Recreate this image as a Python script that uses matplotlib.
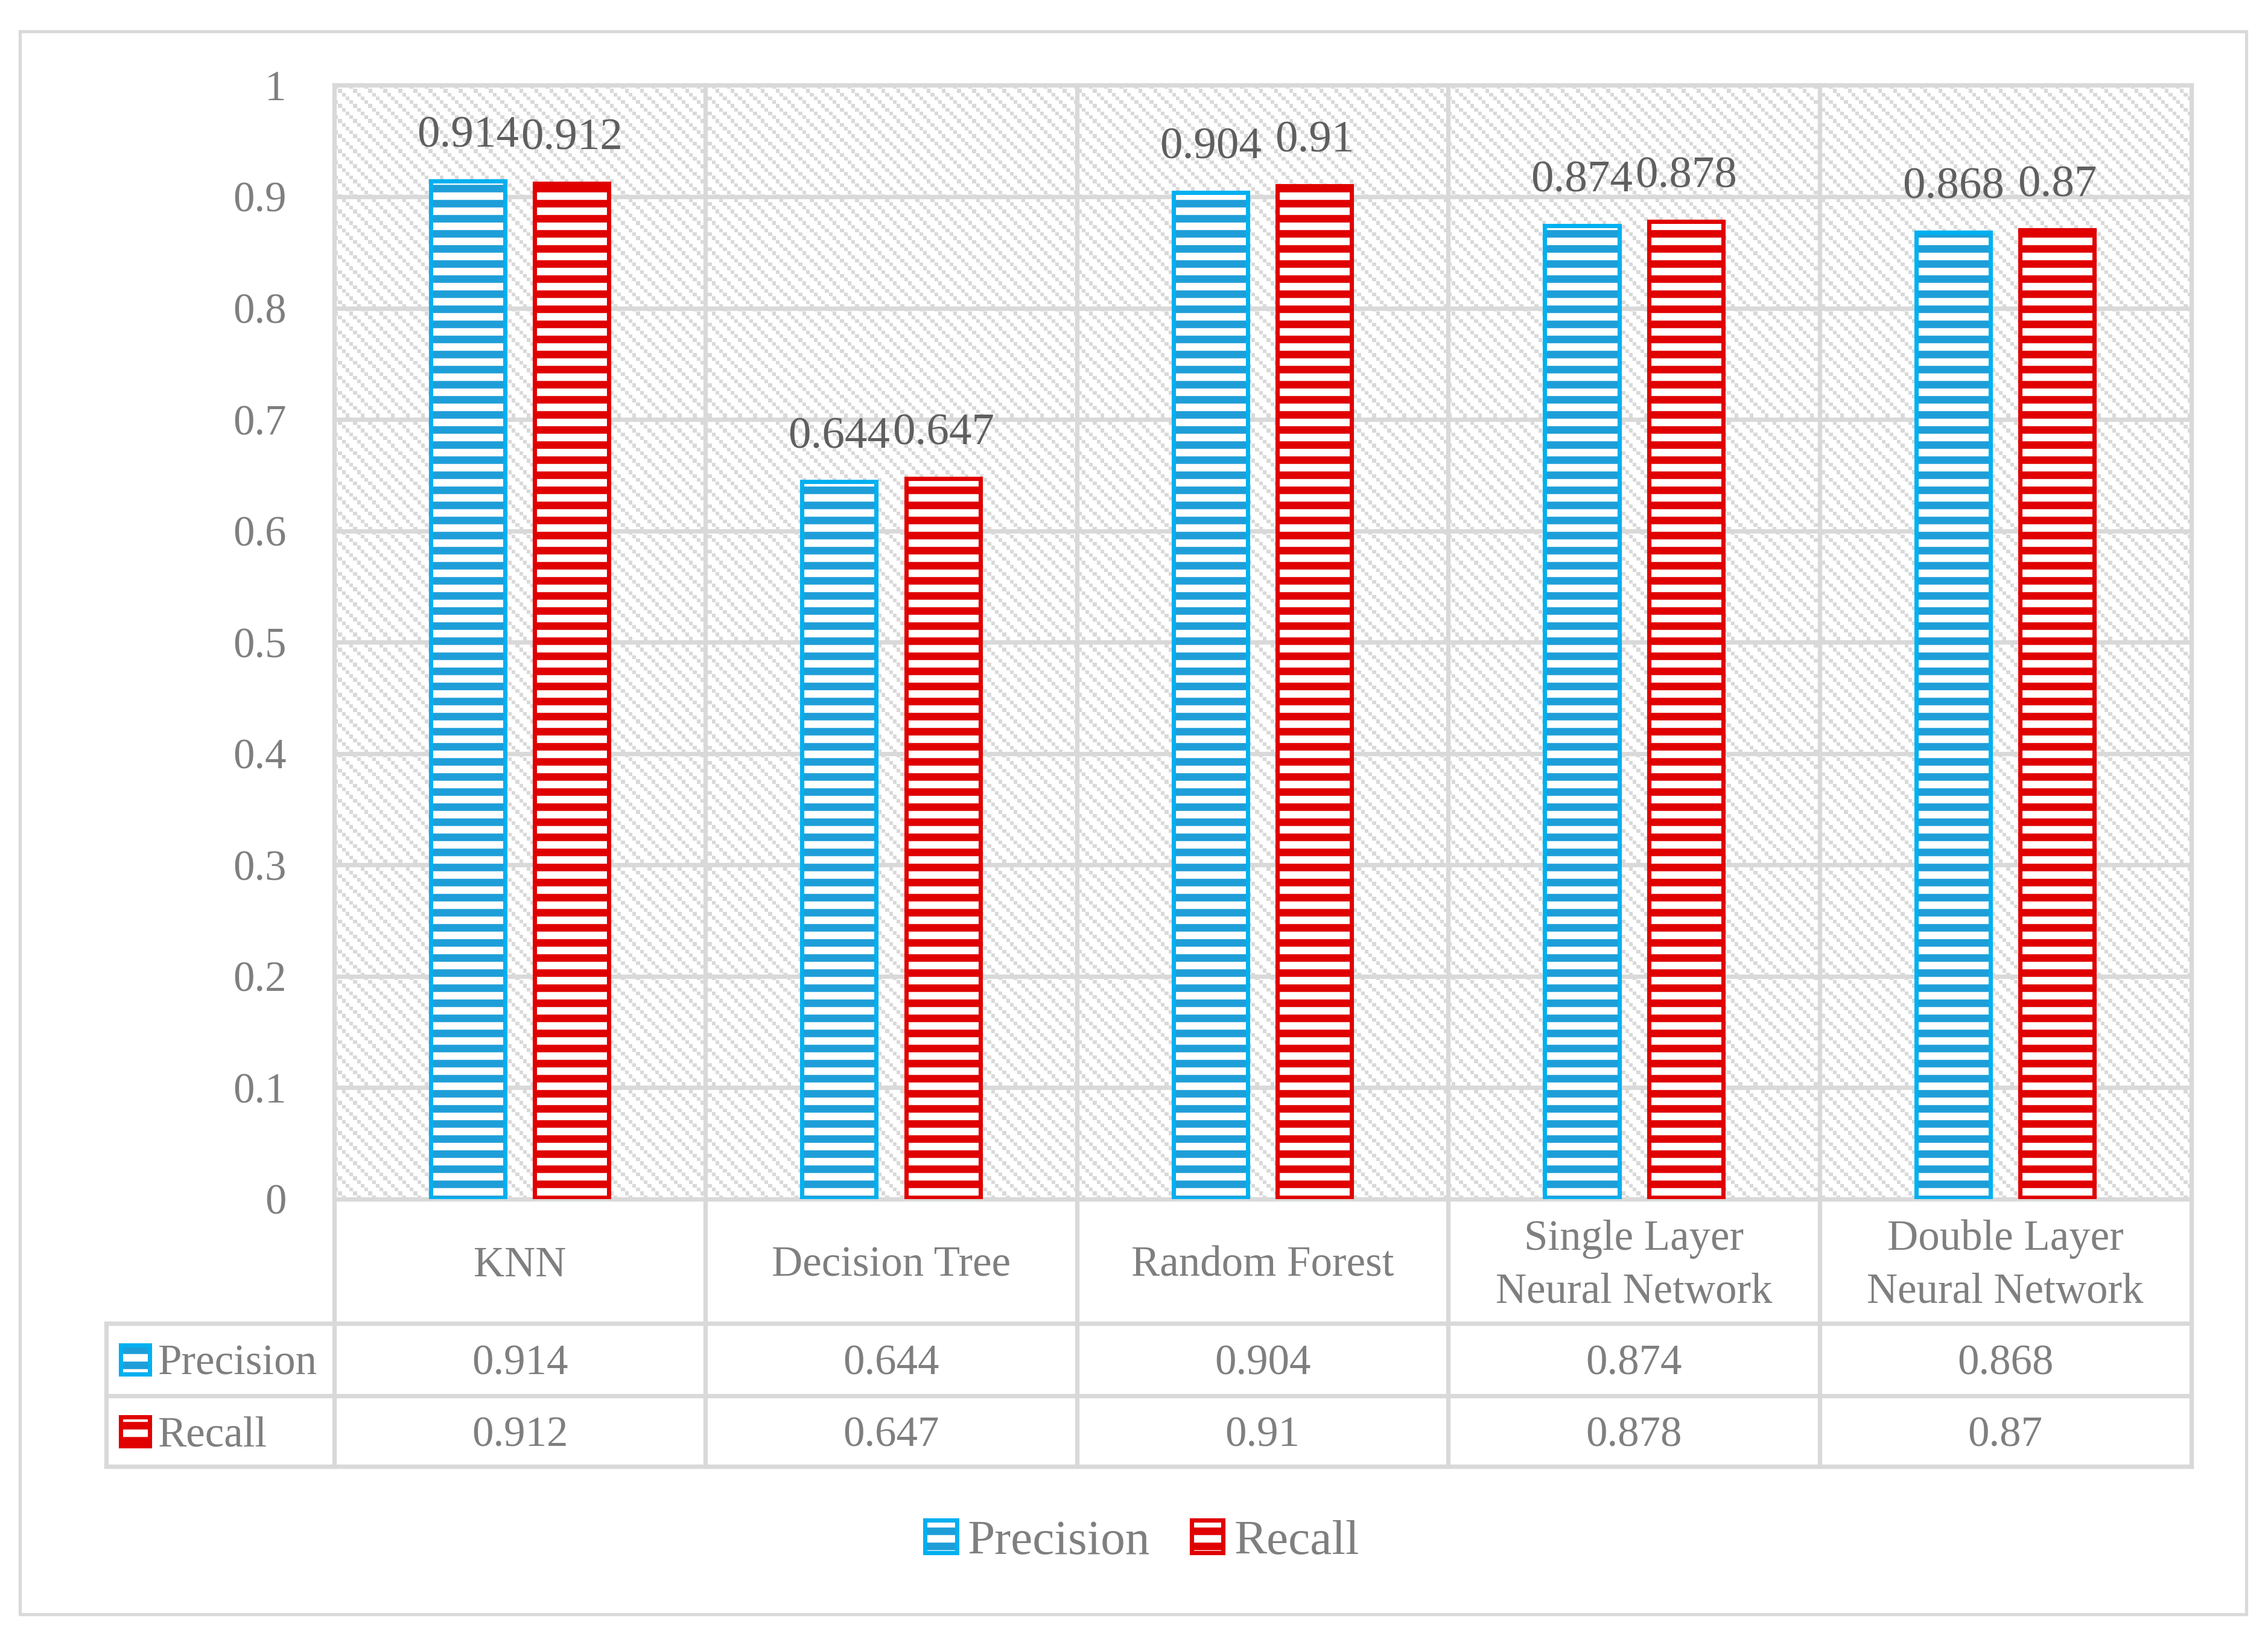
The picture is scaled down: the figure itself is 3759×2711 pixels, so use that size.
import numpy as np
import matplotlib
matplotlib.use('Agg')
import matplotlib.pyplot as plt
from matplotlib.patches import Rectangle, Patch
from matplotlib.legend_handler import HandlerTuple

# ---------------- data ----------------
categories = ['KNN', 'Decision Tree', 'Random Forest',
              'Single Layer\nNeural Network', 'Double Layer\nNeural Network']
precision = [0.914, 0.644, 0.904, 0.874, 0.868]
recall = [0.912, 0.647, 0.91, 0.878, 0.87]
series_names = ['Precision', 'Recall']
y_ticks = [0.0, 0.1, 0.2, 0.3, 0.4, 0.5, 0.6, 0.7, 0.8, 0.9, 1.0]
y_tick_labels = ['0', '0.1', '0.2', '0.3', '0.4', '0.5', '0.6', '0.7', '0.8', '0.9', '1']

# ---------------- style ----------------
plt.rcParams['font.family'] = ['Liberation Serif', 'DejaVu Serif']
plt.rcParams['hatch.linewidth'] = 3.0

GRID = '#D9D9D9'
TXT = '#7F7F7F'
LBL = '#5F5F5F'
stripe_cols = ['#1E9ED8', '#E00000']
edge_cols = ['#00B0F0', '#E00000']

W, H, DPI = 3759, 2711, 300
fig = plt.figure(figsize=(W / DPI, H / DPI), dpi=DPI)
fig.patch.set_facecolor('white')

# outer chart border
fig.add_artist(Rectangle((33 / W, 36 / H), (3723 - 33) / W, (2675 - 52) / H,
                         transform=fig.transFigure, fill=False,
                         edgecolor=GRID, linewidth=1.25))

ax_l, ax_r, ax_t, ax_b = 553.8, 3631.5, 141.4, 1987.0
ax = fig.add_axes([ax_l / W, 1 - ax_b / H, (ax_r - ax_l) / W, (ax_b - ax_t) / H])

# background dotted-diagonal texture of the plot area
nr, nc = 295, 492
ii, jj = np.mgrid[0:nr, 0:nc]
mask = ((jj - ii) % 4 == 0)
tex = np.where(mask[..., None], np.array([217, 217, 217]), np.array([255, 255, 255])).astype(np.uint8)
ax.imshow(tex, extent=(0, 1, 0, 1), transform=ax.transAxes,
          interpolation='nearest', aspect='auto', zorder=0)

# bars
x = np.arange(len(categories))
bw = 0.2
offs = [-0.14, 0.14]
for vals, dx, sc, ec in zip([precision, recall], offs, stripe_cols, edge_cols):
    ax.bar(x + dx, vals, bw, color='white', edgecolor=sc, hatch='--',
           linewidth=0, zorder=2)
    ax.bar(x + dx, vals, bw, fill=False, edgecolor=ec, linewidth=1.7, zorder=3)
    for xi, v in zip(x + dx, vals):
        ax.annotate(f'{v:g}', (xi, v), xytext=(0, 13.5), textcoords='offset points',
                    ha='center', va='baseline', fontsize=18, color=LBL, zorder=4)

ax.set_xlim(-0.5, len(categories) - 0.5)
ax.set_ylim(0, 1)
ax.set_yticks(y_ticks, y_tick_labels)
ax.set_xticks([])
ax.tick_params(axis='y', length=0, pad=19, labelsize=17, labelcolor=TXT)
for s in ax.spines.values():
    s.set_visible(False)
ax.grid(axis='y', color=GRID, linewidth=1.75)
ax.set_axisbelow(True)
for gl in ax.get_ygridlines():
    gl.set_clip_on(False)

# ---------------- data table under the plot ----------------
trans = ax.get_xaxis_transform()
row_bounds = [0.0, -0.1117, -0.1766, -0.2403]
left_x = -1.113
lkw = dict(transform=trans, color=GRID, linewidth=1.75, clip_on=False,
           zorder=1, solid_capstyle='projecting')
for b in np.arange(len(categories) + 1) - 0.5:
    ax.plot([b, b], [row_bounds[-1], 1], **lkw)
ax.plot([left_x, left_x], [row_bounds[-1], row_bounds[1]], **lkw)
for yb in row_bounds[1:]:
    ax.plot([left_x, len(categories) - 0.5], [yb, yb], **lkw)

dy = -0.004
cat_y = (row_bounds[0] + row_bounds[1]) / 2 + dy
for i, c in enumerate(categories):
    ax.text(i, cat_y, c, transform=trans, ha='center', va='center',
            fontsize=17, color=TXT, linespacing=1.46, clip_on=False)

key_w, key_h = 0.078, 0.026
for r, (name, vals) in enumerate(zip(series_names, [precision, recall])):
    yc = (row_bounds[r + 1] + row_bounds[r + 2]) / 2
    for i, v in enumerate(vals):
        ax.text(i, yc + dy, f'{v:g}', transform=trans, ha='center', va='center',
                fontsize=17, color=TXT, clip_on=False)
    kx = -1.0748
    ax.add_patch(Rectangle((kx, yc - key_h / 2), key_w, key_h, transform=trans,
                           facecolor='white', edgecolor=stripe_cols[r], hatch='--',
                           linewidth=0, clip_on=False, zorder=2))
    ax.add_patch(Rectangle((kx, yc - key_h / 2), key_w, key_h, transform=trans,
                           fill=False, edgecolor=edge_cols[r], linewidth=1.7,
                           clip_on=False, zorder=3))
    ax.text(-0.974, yc + dy, name, transform=trans, ha='left', va='center',
            fontsize=17, color=TXT, clip_on=False)

# ---------------- legend ----------------
handles = []
for sc, ec in zip(stripe_cols, edge_cols):
    handles.append((Patch(facecolor='white', edgecolor=sc, hatch='--', linewidth=0),
                    Patch(fill=False, edgecolor=ec, linewidth=1.7)))
fig.legend(handles, series_names, loc='center', bbox_to_anchor=(0.5036, 0.0575),
           ncol=2, frameon=False, fontsize=19.5, handlelength=0.65,
           handleheight=0.65, handletextpad=0.22, columnspacing=0.84,
           labelcolor=TXT, handler_map={tuple: HandlerTuple(ndivide=1, pad=0)})

fig.savefig('out.png', dpi=DPI, facecolor='white')
